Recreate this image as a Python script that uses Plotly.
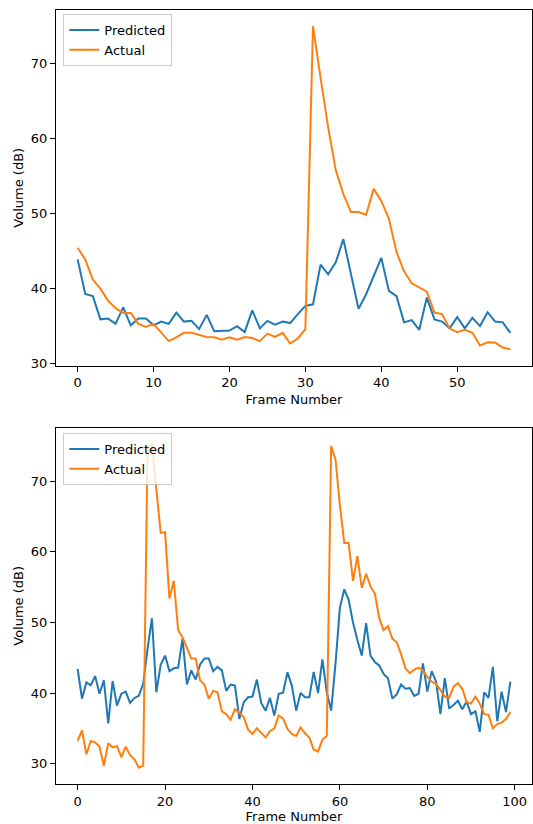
import plotly.graph_objects as go

# ---------------- data ----------------
top_frames = list(range(58))
top_predicted = [43.9, 39.3, 39.0, 35.9, 36.0, 35.3, 37.5, 35.1, 36.0, 36.0,
                 35.1, 35.6, 35.3, 36.8, 35.6, 35.7, 34.6, 36.5, 34.3, 34.3,
                 34.4, 35.0, 34.2, 37.1, 34.7, 35.7, 35.2, 35.6, 35.4, 36.6,
                 37.7, 37.9, 43.2, 41.9, 43.5, 46.6, 42.0, 37.3, 39.25, 41.7,
                 44.1, 39.7, 39.0, 35.5, 35.8, 34.5, 38.8, 35.9, 35.6, 34.7,
                 36.2, 34.7, 36.1, 35.0, 36.85, 35.6, 35.5, 34.1]
top_actual = [45.45, 43.9, 41.2, 40.0, 38.4, 37.4, 36.75, 36.75, 35.3, 34.9,
              35.3, 34.2, 33.0, 33.5, 34.1, 34.1, 33.8, 33.55, 33.5, 33.2,
              33.5, 33.2, 33.55, 33.4, 33.0, 34.0, 33.55, 34.1, 32.7, 33.35,
              34.6, 75.0, 68.1, 61.5, 55.8, 52.6, 50.2, 50.2, 49.85, 53.3,
              51.7, 49.3, 44.9, 42.3, 40.7, 40.1, 39.6, 36.8, 36.6, 34.7,
              34.2, 34.5, 34.1, 32.4, 32.85, 32.8, 32.15, 31.9]

bottom_frames = list(range(100))
bottom_predicted = [43.4, 39.2, 41.5, 41.1, 42.4, 39.9, 41.8, 35.7, 41.7, 38.2,
                    39.9, 40.2, 38.6, 39.3, 39.6, 41.3, 46.3, 50.6, 40.1, 44.0,
                    45.3, 43.1, 43.5, 43.6, 47.7, 41.2, 43.2, 41.9, 44.0, 44.9,
                    44.9, 43.1, 43.7, 43.2, 40.3, 41.2, 41.05, 36.3, 38.7, 39.4,
                    39.5, 41.9, 38.6, 37.5, 39.3, 36.8, 39.9, 40.05, 42.95, 41.05,
                    37.5, 40.0, 39.4, 39.4, 43.0, 40.0, 44.75, 40.1, 37.5, 44.2,
                    52.1, 54.7, 53.2, 50.0, 47.5, 45.3, 49.9, 45.3, 44.4, 43.9,
                    42.7, 42.1, 39.2, 39.8, 41.2, 40.6, 40.7, 39.6, 39.9, 44.2,
                    40.2, 43.1, 41.6, 37.0, 42.1, 37.8, 38.3, 38.9, 37.7, 38.8,
                    37.0, 37.4, 34.5, 40.1, 39.3, 43.7, 36.0, 40.2, 37.3, 41.6]
bottom_actual = [33.2, 34.7, 31.3, 33.2, 33.0, 32.4, 29.7, 32.9, 32.3, 32.5,
                 30.9, 32.4, 31.2, 30.6, 29.4, 29.7, 75.0, 75.3, 68.9, 62.7,
                 62.8, 53.4, 55.9, 48.9, 47.9, 46.5, 44.9, 44.9, 41.8, 41.2,
                 39.2, 40.3, 40.1, 37.4, 37.0, 36.2, 37.7, 37.2, 36.6, 34.8,
                 34.2, 35.0, 34.3, 33.7, 34.6, 35.0, 36.8, 36.4, 34.9, 34.2,
                 33.9, 35.1, 34.3, 33.7, 32.0, 31.7, 33.4, 33.9, 75.0, 73.1,
                 66.6, 61.25, 61.25, 55.9, 59.4, 54.9, 56.9, 55.1, 54.1, 50.6,
                 48.9, 49.5, 47.7, 47.2, 45.5, 43.5, 42.8, 43.3, 43.6, 43.2,
                 42.3, 41.6, 41.3, 40.4, 39.5, 39.3, 40.9, 41.4, 40.6, 38.7,
                 38.5, 39.5, 38.5, 37.0, 36.9, 35.0, 35.6, 35.8, 36.3, 37.3]

top_xticks = [0, 10, 20, 30, 40, 50]
bottom_xticks = [0, 20, 40, 60, 80, 100]
yticks = [30, 40, 50, 60, 70]

# ---------------- style ----------------
BLUE = "#1f77b4"
ORANGE = "#ff7f0e"
FONT = "DejaVu Sans"
FS = 13


def padded(lo, hi, frac=0.05):
    d = (hi - lo) * frac
    return [lo - d, hi + d]


fig = go.Figure()
fig.add_trace(go.Scatter(x=top_frames, y=top_predicted, mode="lines", name="Predicted",
                         line=dict(color=BLUE, width=2), xaxis="x", yaxis="y", legend="legend"))
fig.add_trace(go.Scatter(x=top_frames, y=top_actual, mode="lines", name="Actual",
                         line=dict(color=ORANGE, width=2), xaxis="x", yaxis="y", legend="legend"))
fig.add_trace(go.Scatter(x=bottom_frames, y=bottom_predicted, mode="lines", name="Predicted",
                         line=dict(color=BLUE, width=2), xaxis="x2", yaxis="y2", legend="legend2"))
fig.add_trace(go.Scatter(x=bottom_frames, y=bottom_actual, mode="lines", name="Actual",
                         line=dict(color=ORANGE, width=2), xaxis="x2", yaxis="y2", legend="legend2"))

W, H = 533, 824
ml, mr, mt, mb = 56, 1, 10, 40
ph = H - mt - mb
top_bottom_px = 365.5
bot_top_px = 427.7

axis_common = dict(showline=True, linecolor="black", linewidth=1, mirror=True,
                   ticks="outside", ticklen=5, tickwidth=1, tickcolor="black",
                   showgrid=False, zeroline=False,
                   tickfont=dict(family=FONT, size=FS, color="black"))

fig.update_layout(
    width=W, height=H,
    margin=dict(l=ml, r=mr, t=mt, b=mb),
    paper_bgcolor="white", plot_bgcolor="white",
    font=dict(family=FONT, size=FS, color="black"),
    xaxis=dict(**axis_common, domain=[0, 1], anchor="y",
               range=padded(min(top_frames), max(top_frames)),
               tickvals=top_xticks,
               title=dict(text="Frame Number", font=dict(family=FONT, size=FS, color="black"), standoff=5)),
    yaxis=dict(**axis_common, domain=[(H - mb - top_bottom_px) / ph, 1], anchor="x",
               range=padded(min(top_predicted + top_actual), max(top_predicted + top_actual)),
               tickvals=yticks,
               title=dict(text="Volume (dB)", font=dict(family=FONT, size=FS, color="black"), standoff=4)),
    xaxis2=dict(**axis_common, domain=[0, 1], anchor="y2",
                range=padded(min(bottom_frames), max(bottom_frames)),
                tickvals=bottom_xticks,
                title=dict(text="Frame Number", font=dict(family=FONT, size=FS, color="black"), standoff=5)),
    yaxis2=dict(**axis_common, domain=[0, (H - mb - bot_top_px) / ph], anchor="x2",
                range=padded(min(bottom_predicted + bottom_actual), max(bottom_predicted + bottom_actual)),
                tickvals=yticks,
                title=dict(text="Volume (dB)", font=dict(family=FONT, size=FS, color="black"), standoff=4)),
    legend=dict(x=(63.3 - ml) / (W - ml - mr), y=(H - mb - 14) / ph, xanchor="left", yanchor="top",
                bgcolor="rgba(255,255,255,0.8)", bordercolor="#cccccc", borderwidth=1,
                font=dict(family=FONT, size=FS, color="black"), tracegroupgap=0),
    legend2=dict(x=(63.3 - ml) / (W - ml - mr), y=(H - mb - 433) / ph, xanchor="left", yanchor="top",
                 bgcolor="rgba(255,255,255,0.8)", bordercolor="#cccccc", borderwidth=1,
                 font=dict(family=FONT, size=FS, color="black"), tracegroupgap=0),
    showlegend=True,
)

fig.write_html("out.html")
